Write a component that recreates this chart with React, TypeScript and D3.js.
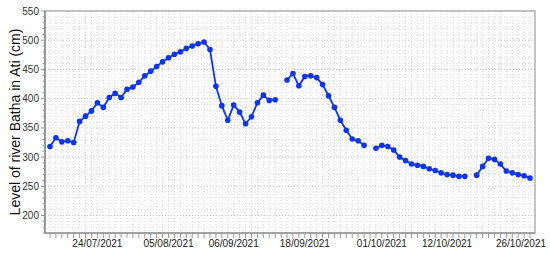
import React from 'react';
import * as d3 from 'd3';

// dates of readings (two runs of daily readings)
const dateRuns = [
    ['2021-07-16', '2021-08-05'],
    ['2021-08-27', '2021-10-26'],
];

// river level in cm, null = no reading
const levels = [
    318, 333, 326, 328, 325, 361, 370, 379, 393, 385,
    402, 409, 402, 416, 420, 428, 439, 447, 455, 463,
    470, 476, 480, 486, 490, 494, 497, 484, 421, 388,
    363, 389, 377, 357, 369, 393, 406, 397, 398, null,
    432, 443, 422, 438, 439, 436, 424, 405, 385, 363,
    346, 331, 328, 320, null, 315, 320, 318, 312, 300,
    294, 288, 286, 284, 280, 277, 273, 270, 269, 267,
    267, null, 269, 284, 298, 296, 288, 276, 273, 270,
    268, 264,
];

const tickLabels = ['24/07/2021', '05/08/2021', '06/09/2021', '18/09/2021', '01/10/2021', '12/10/2021', '26/10/2021'];
const yTicks = [200, 250, 300, 350, 400, 450, 500, 550];
const yDomain = [170, 550];

const fmt = d3.timeFormat('%d/%m/%Y');
const categories = dateRuns.flatMap(([a, b]) =>
    d3.timeDay.range(new Date(a + 'T00:00'), d3.timeDay.offset(new Date(b + 'T00:00'), 1)).map(fmt)
);

const width = 550;
const height = 258;
const margin = { top: 11, right: 15, bottom: 25, left: 45 };
const font = '"Liberation Sans", Arial, Helvetica, sans-serif';
const blue = '#0a33ff';

export default function App() {
    const x = d3.scalePoint<string>()
        .domain(categories)
        .range([margin.left, width - margin.right])
        .padding(0.84);

    const y = d3.scaleLinear()
        .domain(yDomain)
        .range([height - margin.bottom, margin.top]);

    const data = categories.map((c, i) => ({ c, v: levels[i] }));

    const line = d3.line<{ c: string; v: number | null }>()
        .defined(d => d.v != null)
        .x(d => x(d.c)!)
        .y(d => y(d.v as number));

    const minorY = d3.range(yDomain[0], yDomain[1] + 1, 10);
    const x0 = margin.left, x1 = width - margin.right;
    const y0 = height - margin.bottom, y1 = margin.top;

    return (
        <svg width={width} height={height} style={{ position: 'absolute', left: 0, top: 0 }} fontFamily={font}>
            <rect x={0} y={0} width={width} height={height} fill="white" />
            {/* grid */}
            <g>
                {categories.map(c => (
                    <line key={c} x1={x(c)} x2={x(c)} y1={y1} y2={y0} stroke="#d8d8d8" strokeWidth={0.8} strokeDasharray="1,2" />
                ))}
                {minorY.map(v => (
                    <line key={v} x1={x0} x2={x1} y1={y(v)} y2={y(v)}
                        stroke={v % 50 === 0 ? '#c8c8c8' : '#e0e0e0'} strokeWidth={0.8} strokeDasharray="1,2" />
                ))}
            </g>
            {/* frame */}
            <rect x={x0} y={y1} width={x1 - x0} height={y0 - y1} fill="none" stroke="#b0b0b0" strokeWidth={1.5} />
            <line x1={x0} x2={x0} y1={y1} y2={y0} stroke="#999" strokeWidth={2} />
            <line x1={x0} x2={x1} y1={y0} y2={y0} stroke="#999" strokeWidth={1.5} />
            {/* y axis */}
            <g>
                {minorY.map(v => (
                    <line key={v} x1={v % 50 === 0 ? x0 - 4 : x0 - 2.5} x2={x0} y1={y(v)} y2={y(v)} stroke="#999" strokeWidth={1} />
                ))}
                {yTicks.map(v => (
                    <text key={v} x={x0 - 6} y={y(v)} dy="0.35em" textAnchor="end" fontSize={10} fill="#333">{v}</text>
                ))}
                <text transform={`translate(19.5,${(y0 + y1) / 2}) rotate(-90)`} textAnchor="middle" fontSize={14} fill="#111">
                    Level of river Batha in Ati (cm)
                </text>
            </g>
            {/* x axis */}
            <g>
                {categories.map(c => (
                    <line key={c} x1={x(c)} x2={x(c)} y1={y0} y2={y0 + 5} stroke="#999" strokeWidth={1} />
                ))}
                {categories.filter(c => tickLabels.includes(c)).map(c => (
                    <text key={c} x={Math.min(x(c)!, width - 8 - 21)} y={y0 + 13.5} textAnchor="middle" fontSize={10} fill="#222">{c}</text>
                ))}
            </g>
            {/* series */}
            <path d={line(data) || ''} fill="none" stroke={blue} strokeWidth={1.8} />
            {data.filter(d => d.v != null).map(d => (
                <circle key={d.c} cx={x(d.c)} cy={y(d.v as number)} r={2.8} fill={blue} />
            ))}
        </svg>
    );
}
